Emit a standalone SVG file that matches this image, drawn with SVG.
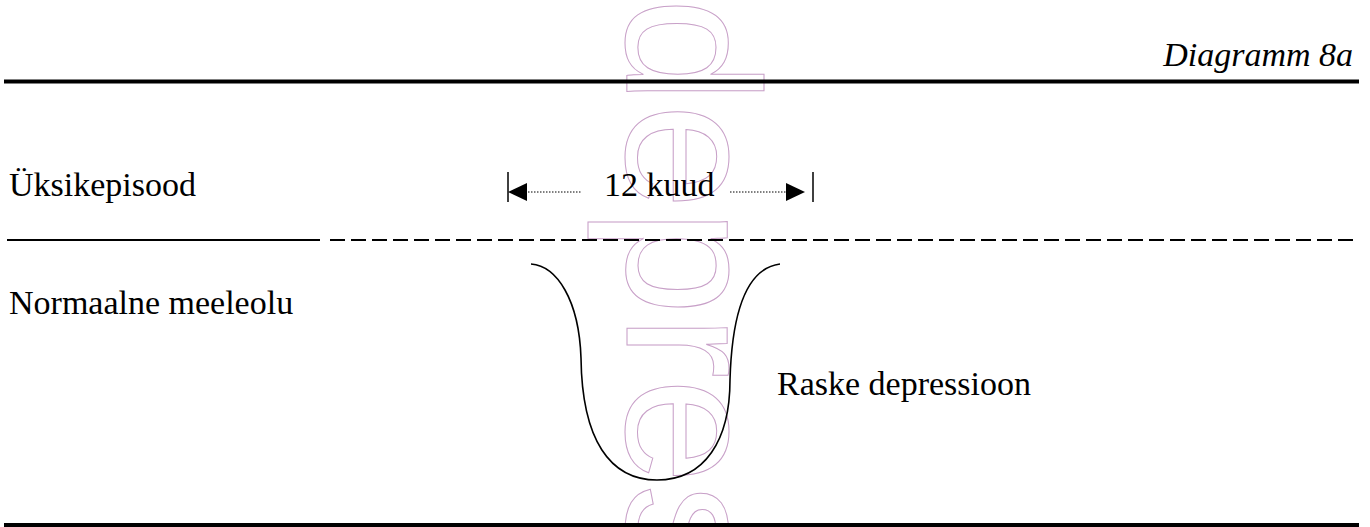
<svg xmlns="http://www.w3.org/2000/svg" width="1370" height="527" viewBox="0 0 1370 527">
<style>
.t{font-family:"Liberation Serif","Times New Roman",serif;font-size:34px;fill:#000}
.wm{font-family:"Liberation Sans",Arial,sans-serif;font-size:190px;fill:none;stroke:#c8a0c8;stroke-width:1}
.rule{stroke:#000;fill:none}
.dot{stroke:#000;stroke-width:1;stroke-dasharray:1.5 1.5;fill:none}
</style>
<rect width="1370" height="527" fill="#fff"/>
<g id="watermark">
<text class="wm" transform="translate(627,-2) rotate(90)" x="0" y="0">depres</text>
</g>
<g id="rules">
<line class="rule" x1="4" y1="81.5" x2="1359" y2="81.5" stroke-width="4"/>
<line class="rule" x1="4" y1="525" x2="1359" y2="525" stroke-width="4"/>
<line class="rule" x1="7" y1="240" x2="320" y2="240" stroke-width="2"/>
<line class="rule" x1="330" y1="240" x2="1355" y2="240" stroke-width="2" stroke-dasharray="15 6"/>
</g>
<g id="title"><text class="t" x="1353" y="66" text-anchor="end" font-style="italic">Diagramm 8a</text></g>
<g id="label-uksik"><text class="t" x="9" y="196">Üksikepisood</text></g>
<g id="label-normaalne"><text class="t" x="9" y="314">Normaalne meeleolu</text></g>
<g id="label-raske"><text class="t" x="777" y="395">Raske depressioon</text></g>
<g id="duration">
<line class="rule" x1="508" y1="172" x2="508" y2="202" stroke-width="1.5"/>
<polygon points="508,192 527,183 527,201" fill="#000"/>
<line class="dot" x1="528" y1="192" x2="582" y2="192"/>
<text class="t" x="604" y="196">12 kuud</text>
<line class="dot" x1="730" y1="192" x2="786" y2="192"/>
<polygon points="805,192 786,183 786,201" fill="#000"/>
<line class="rule" x1="813" y1="172" x2="813" y2="202" stroke-width="1.5"/>
</g>
<g id="connectors">
<path class="rule" stroke-width="1.6" d="M531,264 C557,266 579,300 581,358 C582,440 610,480 657,480 C705,480 730,440 730,380 C732,310 748,268 780,264"/>
</g>
</svg>
